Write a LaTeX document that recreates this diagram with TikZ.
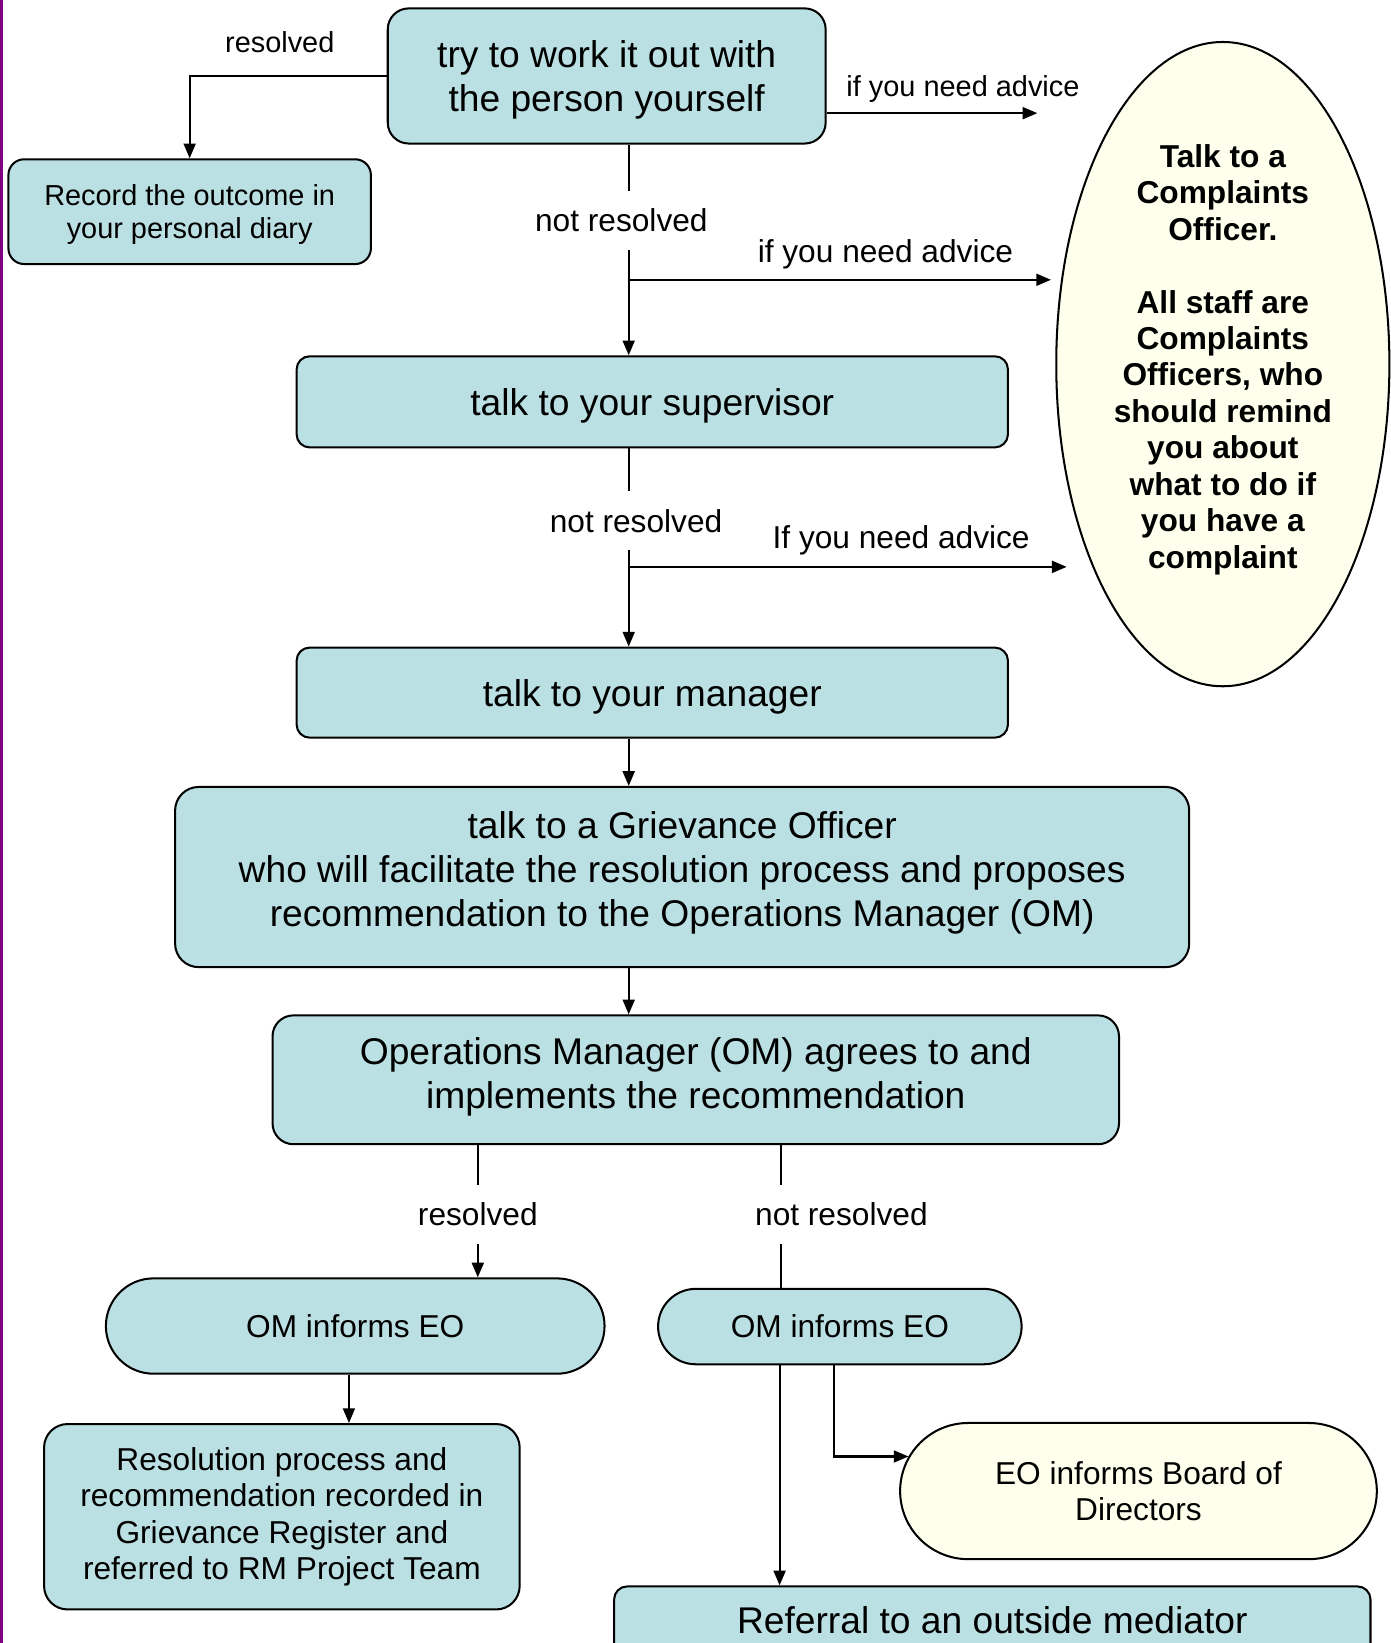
\documentclass[tikz,border=0pt]{standalone}
\usepackage{fontspec}
\setmainfont{Liberation Sans}
\usetikzlibrary{arrows.meta,shapes.geometric}
\definecolor{boxblue}{RGB}{187,224,227}
\definecolor{cream}{RGB}{255,255,238}
\definecolor{edgepurple}{RGB}{128,0,128}
\newcommand{\sizeL}{\fontsize{20.2pt}{23.8pt}\selectfont}
\newcommand{\sizeM}{\fontsize{17.2pt}{19.8pt}\selectfont}
\newcommand{\sizeS}{\fontsize{15.7pt}{18.1pt}\selectfont}
\begin{document}
\begin{tikzpicture}[x=0.02cm, y=-0.02cm, >={Triangle[length=8pt,width=6.5pt]},
    bluebox/.style={draw, line width=1.1pt, fill=boxblue, align=center, inner sep=0pt},
    creambox/.style={bluebox, fill=cream},
    lbl/.style={align=center, inner xsep=2pt, inner ysep=9.5pt},
    flow/.style={line width=1.1pt}]
    \useasboundingbox (0,0) rectangle (1327,1568);
    \clip (0,0) rectangle (1327,1568);
    % page edge
    \draw[edgepurple, line width=0.064cm] (1.6,0) -- (1.6,1568);
    % steps
    \node[bluebox, minimum width=8.36cm, minimum height=2.58cm, rounded corners=0.4cm, text depth=0pt, font=\sizeL] (try) at (579,72.5) {try to work it out with\\the person yourself};
    \node[bluebox, minimum width=6.92cm, minimum height=2cm, rounded corners=0.3cm, text depth=0pt, font=\sizeS] (record) at (181,202) {Record the outcome in\\your personal diary};
    \node[bluebox, minimum width=13.58cm, minimum height=1.74cm, rounded corners=0.25cm, text depth=0pt, font=\sizeL] (sup) at (622.5,383.5) {talk to your supervisor};
    \node[bluebox, minimum width=13.58cm, minimum height=1.72cm, rounded corners=0.25cm, text depth=0pt, font=\sizeL] (manager) at (622.5,661) {talk to your manager};
    \node[bluebox, minimum width=19.36cm, minimum height=3.44cm, rounded corners=0.45cm, text depth=8.7pt, font=\sizeL] (griev) at (651,837) {talk to a Grievance Officer\\who will facilitate the resolution process and proposes\\recommendation to the Operations Manager (OM)};
    \node[bluebox, minimum width=16.16cm, minimum height=2.46cm, rounded corners=0.4cm, text depth=7pt, font=\sizeL] (omagree) at (664,1030.5) {Operations Manager (OM) agrees to and\\implements the recommendation};
    \node[bluebox, minimum width=9.52cm, minimum height=1.82cm, rounded corners=0.91cm, font=\sizeM] (omeoL) at (339,1265.5) {OM informs EO};
    \node[bluebox, minimum width=6.94cm, minimum height=1.44cm, rounded corners=0.72cm, font=\sizeM] (omeoR) at (801.5,1266) {OM informs EO};
    \node[bluebox, minimum width=9.08cm, minimum height=3.54cm, rounded corners=0.45cm, font=\sizeM] (resol) at (269,1447.5) {Resolution process and\\recommendation recorded in\\Grievance Register and\\referred to RM Project Team};
    \node[creambox, minimum width=9.1cm, minimum height=2.6cm, rounded corners=1.3cm, font=\sizeM] (board) at (1086.5,1423) {EO informs Board of\\Directors};
    \node[bluebox, anchor=north, minimum width=14.44cm, text height=0.9cm, text depth=3cm, rounded corners=0.25cm, font=\sizeL] (mediator) at (947,1513) {Referral to an outside mediator};
    % complaints officer
    \node[draw, ellipse, line width=1.1pt, fill=cream, minimum width=6.36cm, minimum height=12.3cm, inner sep=0pt, align=center, text depth=8.6pt, font=\sizeM\bfseries] (officer) at (1167,347.5) {Talk to a\\Complaints\\Officer.\\[19.8pt]All staff are\\Complaints\\Officers, who\\should remind\\you about\\what to do if\\you have a\\complaint};
    % labels
    \node[lbl, font=\sizeS] (res1) at (267,40) {resolved};
    \node[lbl, font=\sizeS] (adv1) at (919,85) {if you need advice};
    \node[lbl, font=\sizeM] (nr1) at (593,210) {not resolved};
    \node[lbl, font=\sizeM] (adv2) at (845,243) {if you need advice};
    \node[lbl, font=\sizeM] (nr2) at (607,497) {not resolved};
    \node[lbl, font=\sizeM] (adv3) at (860,516) {If you need advice};
    \node[lbl, font=\sizeM] (res2) at (456,1159) {resolved};
    \node[lbl, font=\sizeM] (nr3) at (803,1159) {not resolved};
    % free ends and bends
    \coordinate (tip1) at (990,108);
    \coordinate (tip2) at (1003,267);
    \coordinate (tip3) at (1018,541);
    \coordinate (fork1) at (600,267);
    \coordinate (fork2) at (600,541);
    \coordinate (splitR) at (745,1092);
    \coordinate (downL) at (333,1311);
    \coordinate (downR) at (744,1302);
    \coordinate (bend) at (796,1390);
    \coordinate (boardin) at (867,1390);
    % connectors
    \draw[flow,->] (try.west) -| (record.north);
    \draw[flow,->] (try.east |- tip1) -- (tip1);
    \draw[flow] (try.south -| fork1) -- (nr1.north -| fork1);
    \draw[flow,->] (nr1.south -| fork1) -- (sup.north -| fork1);
    \draw[flow,->] (fork1) -- (tip2);
    \draw[flow] (sup.south -| fork2) -- (nr2.north -| fork2);
    \draw[flow,->] (nr2.south -| fork2) -- (manager.north -| fork2);
    \draw[flow,->] (fork2) -- (tip3);
    \draw[flow,->] (manager.south -| fork2) -- (griev.north -| fork2);
    \draw[flow,->] (griev.south -| fork2) -- (omagree.north -| fork2);
    \draw[flow] (omagree.south -| res2) -- (res2.north);
    \draw[flow,->] (res2.south) -- (omeoL.north -| res2);
    \draw[flow] (omagree.south -| splitR) -- (nr3.north -| splitR);
    \draw[flow] (nr3.south -| splitR) -- (omeoR.north -| splitR);
    \draw[flow,->] (omeoL.south -| downL) -- (resol.north -| downL);
    \draw[flow,->] (omeoR.south -| downR) -- (mediator.north -| downR);
    \draw[flow,->] (omeoR.south -| bend) |- (boardin);
\end{tikzpicture}
\end{document}
